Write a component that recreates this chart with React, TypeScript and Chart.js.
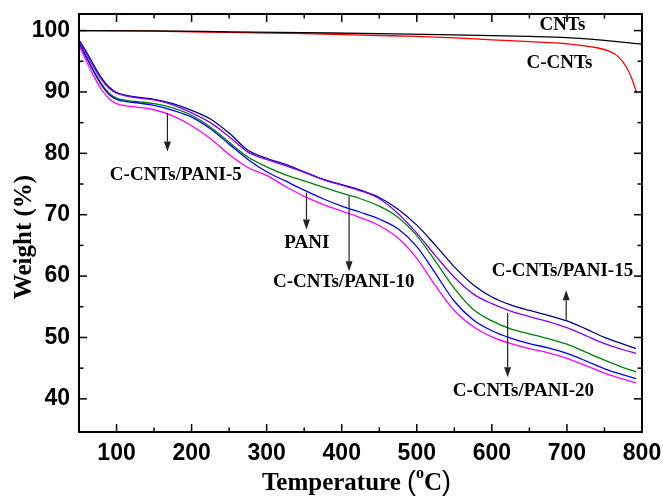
import React, { useEffect, useRef } from 'react';
import { Chart, registerables } from 'chart.js';

Chart.register(...registerables);

// ---------- data ----------
const compTemps = [50, 60, 70, 80, 90, 100, 115, 130, 150, 175, 200, 225, 250, 275, 300, 325, 350, 375, 400, 425, 450, 475, 500, 525, 550, 575, 600, 625, 650, 675, 700, 725, 750, 775, 792];
const pani15 = [98.5, 96.5, 94.3, 92.3, 90.8, 89.9, 89.4, 89.1, 88.8, 88.1, 87.0, 85.6, 83.3, 80.5, 79.2, 78.2, 77.0, 75.8, 74.9, 74.0, 72.8, 70.9, 68.3, 65.0, 61.5, 58.6, 56.6, 55.3, 54.4, 53.6, 52.7, 51.4, 50.0, 48.9, 48.2];
const pani20 = [98.3, 96.2, 94.0, 92.0, 90.6, 89.8, 89.3, 89.0, 88.7, 87.9, 86.6, 85.0, 82.7, 80.2, 79.0, 78.0, 76.9, 75.7, 74.8, 73.9, 72.6, 70.2, 67.0, 63.3, 59.8, 57.1, 55.5, 54.3, 53.4, 52.6, 51.6, 50.3, 49.0, 48.0, 47.4];
const pani10 = [98.0, 95.7, 93.4, 91.3, 89.8, 89.0, 88.6, 88.4, 88.1, 87.4, 86.2, 84.3, 81.8, 79.4, 77.8, 76.5, 75.5, 74.5, 73.5, 72.6, 71.4, 69.6, 66.6, 62.4, 58.0, 54.6, 52.7, 51.4, 50.6, 49.8, 48.9, 47.6, 46.3, 45.1, 44.4];
const pani = [98.0, 95.6, 93.2, 91.1, 89.6, 88.8, 88.4, 88.2, 87.8, 87.0, 85.9, 84.0, 81.5, 79.0, 77.0, 75.5, 74.0, 72.6, 71.4, 70.4, 69.3, 67.7, 64.8, 60.4, 55.9, 52.9, 51.1, 49.9, 49.0, 48.3, 47.4, 46.2, 44.9, 43.9, 43.3];
const pani5 = [97.6, 95.0, 92.5, 90.4, 88.9, 88.1, 87.7, 87.5, 87.1, 86.1, 84.5, 82.4, 79.8, 77.7, 76.4, 74.6, 73.0, 71.7, 70.6, 69.5, 68.2, 66.2, 62.9, 58.4, 54.4, 51.8, 50.1, 49.0, 48.2, 47.5, 46.6, 45.4, 44.2, 43.2, 42.6];

const cntTemps = [50, 150, 250, 350, 450, 550, 650, 700, 750, 800];
const cnts = [100.0, 99.95, 99.8, 99.65, 99.5, 99.3, 99.05, 98.85, 98.4, 97.8];

const ccntTemps = [50, 150, 250, 350, 450, 500, 550, 600, 650, 700, 740, 757, 768, 779, 787, 793];
const ccnts = [100.0, 99.9, 99.7, 99.5, 99.2, 99.05, 98.8, 98.5, 98.2, 97.85, 97.2, 96.6, 95.8, 94.1, 92.0, 89.8];

const xMajor = [100, 200, 300, 400, 500, 600, 700, 800];
const xMinor = [150, 250, 350, 450, 550, 650, 750];
const yMajor = [40, 50, 60, 70, 80, 90, 100];
const yMinor = [45, 55, 65, 75, 85, 95];

// annotations (data coordinates)
const labelTexts = ['CNTs', 'C-CNTs', 'C-CNTs/PANI-5', 'PANI', 'C-CNTs/PANI-10', 'C-CNTs/PANI-15', 'C-CNTs/PANI-20'];
const labelT = [694, 690, 179, 353.5, 402.7, 694, 642];
const labelW = [100.9, 94.7, 76.5, 65.3, 59.0, 60.75, 41.2];
const arrowT = [167.8, 353, 409.8, 699, 621];
const arrowFrom = [86.6, 73.6, 73.0, 52.9, 54.0];
const arrowTo = [80.3, 67.6, 60.8, 57.7, 43.5];

const serif = "'Liberation Serif', 'Times New Roman', serif";

function fontAvailable(name: string) {
  const c = document.createElement('canvas').getContext('2d');
  if (!c) return false;
  c.font = 'bold 26px monospace';
  const a = c.measureText('100 800 Temp').width;
  c.font = `bold 26px '${name}', monospace`;
  const b = c.measureText('100 800 Temp').width;
  return Math.abs(a - b) > 0.5;
}

const decorPlugin = {
  id: 'decor',
  afterDatasetsDraw(chart: any) {
    const { ctx, chartArea: a, scales } = chart;
    const xs = scales.x;
    const ys = scales.y;
    ctx.save();
    // frame
    ctx.strokeStyle = '#000';
    ctx.lineWidth = 2;
    ctx.strokeRect(a.left, a.top, a.right - a.left, a.bottom - a.top);
    // ticks
    ctx.lineWidth = 1.5;
    const seg = (x1: number, y1: number, x2: number, y2: number) => {
      ctx.beginPath();
      ctx.moveTo(x1, y1);
      ctx.lineTo(x2, y2);
      ctx.stroke();
    };
    xMajor.forEach((v) => {
      const p = xs.getPixelForValue(v);
      seg(p, a.bottom, p, a.bottom - 8);
      seg(p, a.top, p, a.top + 8);
    });
    xMinor.forEach((v) => {
      const p = xs.getPixelForValue(v);
      seg(p, a.bottom, p, a.bottom - 4.5);
      seg(p, a.top, p, a.top + 4.5);
    });
    yMajor.forEach((v) => {
      const p = ys.getPixelForValue(v);
      seg(a.left, p, a.left + 8, p);
      seg(a.right, p, a.right - 8, p);
    });
    yMinor.forEach((v) => {
      const p = ys.getPixelForValue(v);
      seg(a.left, p, a.left + 4.5, p);
      seg(a.right, p, a.right - 4.5, p);
    });

    // arrows
    ctx.strokeStyle = '#222';
    ctx.fillStyle = '#222';
    ctx.lineWidth = 1.2;
    arrowT.forEach((t, i) => {
      const px = xs.getPixelForValue(t);
      const p0 = ys.getPixelForValue(arrowFrom[i]);
      const p1 = ys.getPixelForValue(arrowTo[i]);
      const dir = p1 > p0 ? 1 : -1;
      const head = 10;
      seg(px, p0, px, p1 - dir * head);
      ctx.beginPath();
      ctx.moveTo(px, p1);
      ctx.lineTo(px - 3.5, p1 - dir * head);
      ctx.lineTo(px + 3.5, p1 - dir * head);
      ctx.closePath();
      ctx.fill();
    });

    // labels
    ctx.fillStyle = '#000';
    ctx.font = `bold 19px ${serif}`;
    ctx.textAlign = 'center';
    ctx.textBaseline = 'middle';
    labelTexts.forEach((txt, i) => {
      ctx.fillText(txt, xs.getPixelForValue(labelT[i]), ys.getPixelForValue(labelW[i]));
    });

    // x axis title: Temperature (oC)
    const parts = [
      { t: 'Temperature ', f: `bold 25px ${serif}`, dy: 0 },
      { t: '(', f: `27px 'Liberation Sans', sans-serif`, dy: 0 },
      { t: 'o', f: `bold 16px ${serif}`, dy: -12 },
      { t: 'C', f: `bold 25px ${serif}`, dy: 0 },
      { t: ')', f: `27px 'Liberation Sans', sans-serif`, dy: 0 },
    ];
    ctx.textAlign = 'left';
    ctx.textBaseline = 'alphabetic';
    let total = 0;
    parts.forEach((p) => {
      ctx.font = p.f;
      total += ctx.measureText(p.t).width;
    });
    let cx = (a.left + a.right) / 2 - 4 - total / 2;
    parts.forEach((p) => {
      ctx.font = p.f;
      ctx.fillText(p.t, cx, 490 + p.dy);
      cx += ctx.measureText(p.t).width;
    });

    // y axis title
    ctx.save();
    ctx.translate(31, (a.top + a.bottom) / 2 + 14);
    ctx.rotate(-Math.PI / 2);
    ctx.textAlign = 'center';
    ctx.font = `bold 25px ${serif}`;
    ctx.fillText('Weight (%)', 0, 0);
    ctx.restore();

    ctx.restore();
  },
};

export default function App() {
  const ref = useRef<HTMLCanvasElement | null>(null);

  useEffect(() => {
    document.body.style.margin = '0';
    const canvas = ref.current;
    if (!canvas) return;
    const narrow = fontAvailable('Liberation Sans Narrow');
    const tickFont = narrow
      ? { family: "'Liberation Sans Narrow'", size: 26, weight: 'bold' as const }
      : { family: "'Liberation Sans', Arial, sans-serif", size: 23, weight: 'bold' as const };

    const mk = (temps: number[], vals: number[]) => temps.map((t, i) => ({ x: t, y: vals[i] }));
    const line = (label: string, temps: number[], vals: number[], color: string) => ({
      label,
      data: mk(temps, vals),
      borderColor: color,
      backgroundColor: color,
      borderWidth: 1.3,
      pointRadius: 0,
      fill: false,
      cubicInterpolationMode: 'monotone' as const,
    });
    const zeroPad = (s: any) => {
      s.paddingTop = 0;
      s.paddingBottom = 0;
      s.paddingLeft = 0;
      s.paddingRight = 0;
    };

    const chart = new Chart(canvas, {
      type: 'line',
      data: {
        datasets: [
          line('CNTs', cntTemps, cnts, '#000000'),
          line('C-CNTs', ccntTemps, ccnts, '#FF0000'),
          line('C-CNTs/PANI-5', compTemps, pani5, '#FF00FF'),
          line('PANI', compTemps, pani, '#0000FF'),
          line('C-CNTs/PANI-10', compTemps, pani10, '#008000'),
          line('C-CNTs/PANI-20', compTemps, pani20, '#8000FF'),
          line('C-CNTs/PANI-15', compTemps, pani15, '#000080'),
        ],
      },
      options: {
        responsive: false,
        animation: false,
        layout: { padding: { left: 0, top: 14, right: 21, bottom: 0 } },
        plugins: {
          legend: { display: false },
          tooltip: { enabled: false },
          title: { display: false },
        },
        scales: {
          x: {
            type: 'linear',
            min: 50,
            max: 800,
            grid: { display: false, drawTicks: false },
            border: { display: false },
            ticks: { font: tickFont, color: '#000', padding: 8, maxRotation: 0, autoSkip: false },
            afterBuildTicks: (s: any) => {
              s.ticks = xMajor.map((v) => ({ value: v }));
            },
            afterFit: (s: any) => {
              s.height = 67;
              zeroPad(s);
            },
          },
          y: {
            type: 'linear',
            min: 34.6,
            max: 102.7,
            grid: { display: false, drawTicks: false },
            border: { display: false },
            ticks: { font: tickFont, color: '#000', padding: 9, autoSkip: false },
            afterBuildTicks: (s: any) => {
              s.ticks = yMajor.map((v) => ({ value: v }));
            },
            afterFit: (s: any) => {
              s.width = 79;
              zeroPad(s);
            },
          },
        },
      },
      plugins: [decorPlugin],
    });
    return () => chart.destroy();
  }, []);

  return (
    <div style={{ width: 663, height: 499, background: '#fff' }}>
      <canvas ref={ref} width={663} height={499} style={{ display: 'block' }} />
    </div>
  );
}
